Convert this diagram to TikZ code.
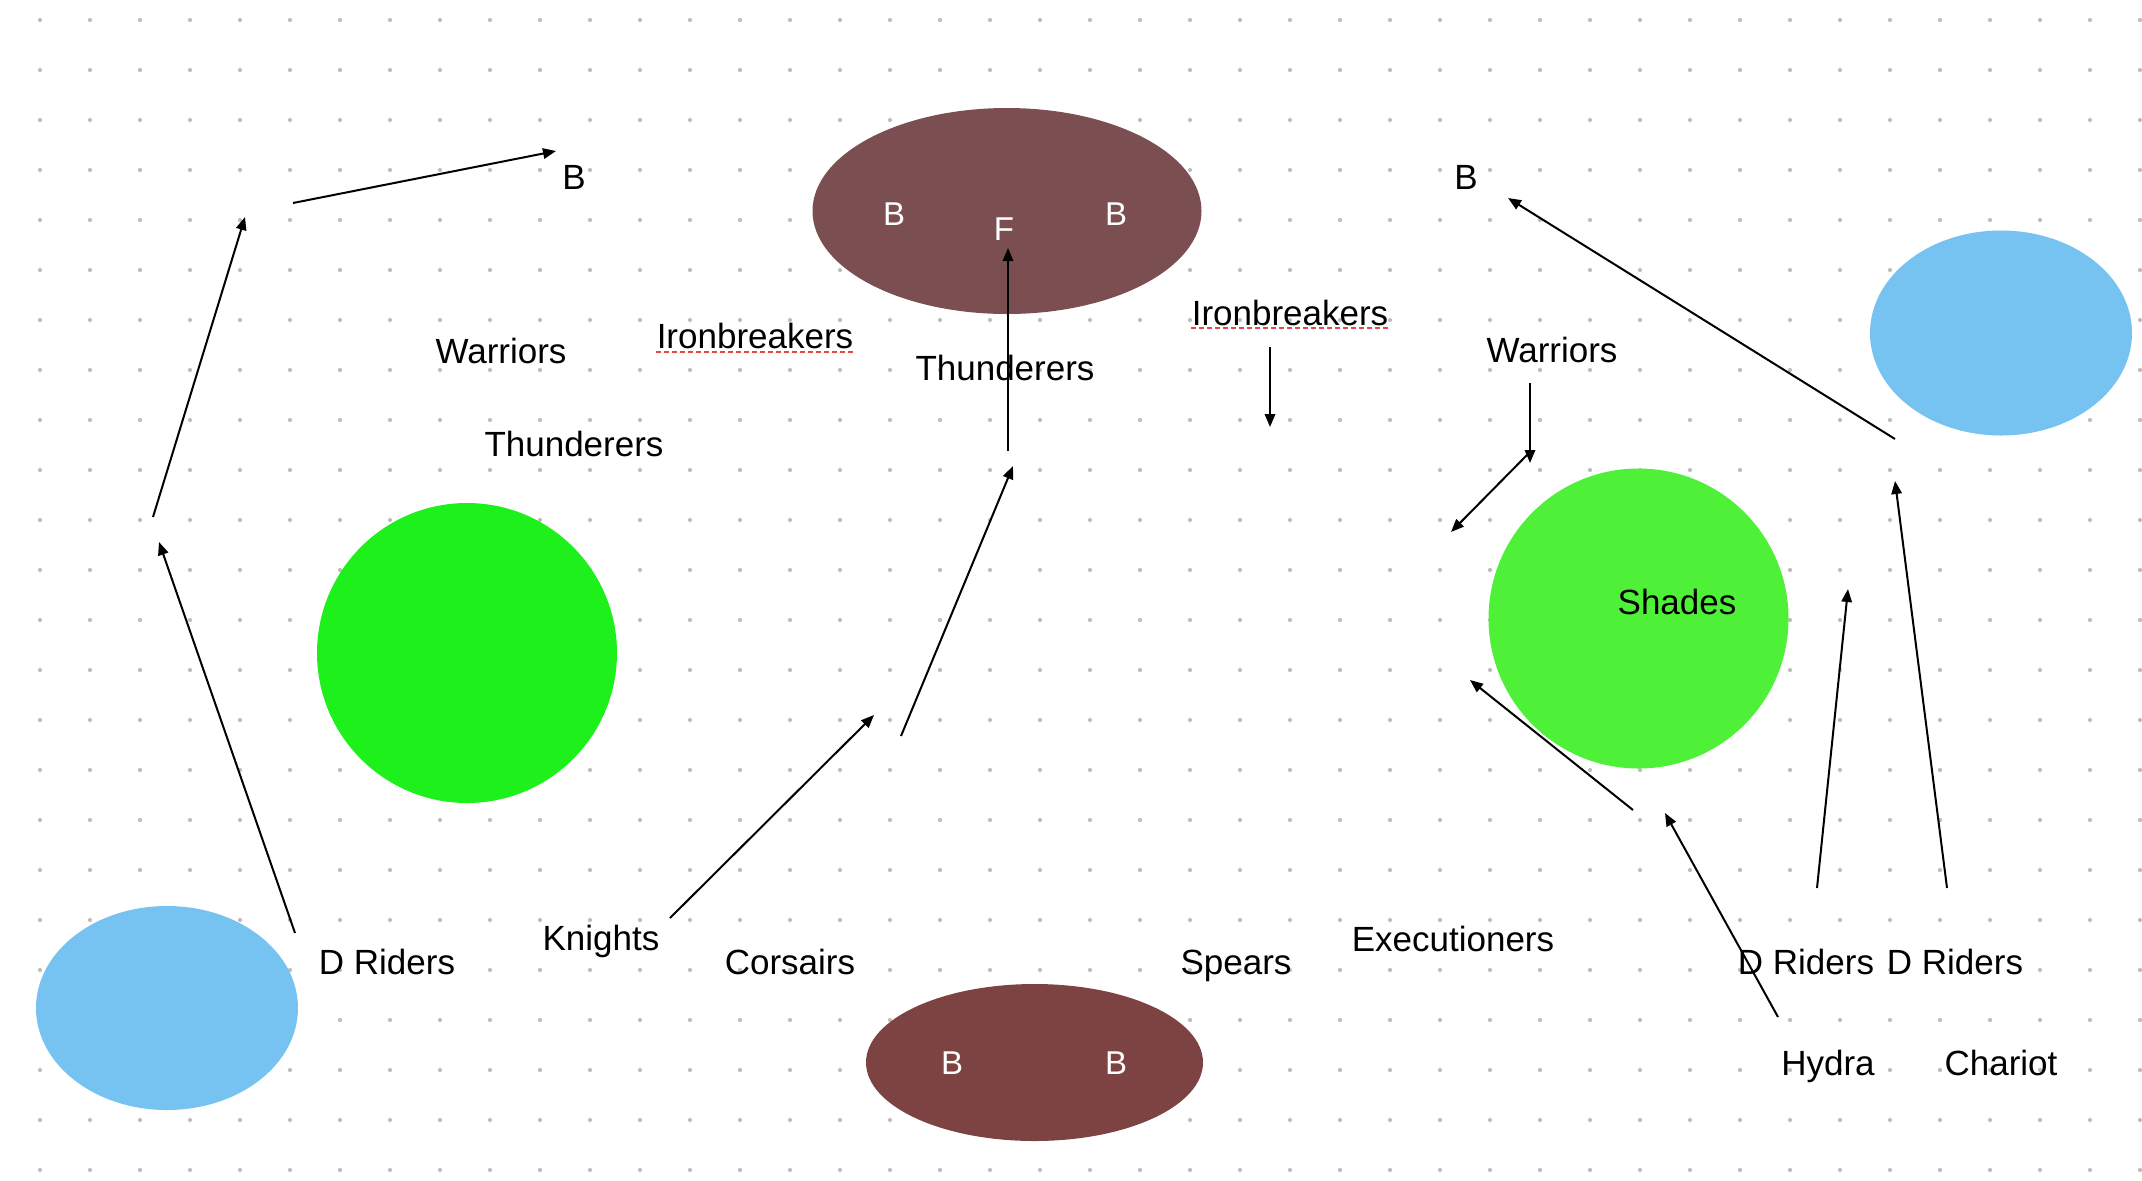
\documentclass[tikz,border=0pt]{standalone}
\usepackage{fontspec}
\setmainfont{Liberation Sans}
\usetikzlibrary{shapes.geometric,arrows.meta}

\definecolor{dotgrey}{RGB}{190,190,190}
\definecolor{campbrown}{RGB}{123,79,81}
\definecolor{baggagebrown}{RGB}{125,67,67}
\definecolor{woodgreen}{RGB}{30,240,27}
\definecolor{hillgreen}{RGB}{78,240,56}
\definecolor{lakeblue}{RGB}{118,194,240}
\definecolor{typored}{RGB}{232,71,59}

\begin{document}
\begin{tikzpicture}[
	x=0.5pt, y=-0.5pt,
	unit/.style={ font=\fontsize{17.5}{20}\selectfont, text height=12.5pt, text depth=0pt, inner sep=0pt },
	badge/.style={ white, font=\fontsize{16.5}{19}\selectfont, text height=11.8pt, text depth=0pt, inner sep=0pt },
	blob/.style={ ellipse, draw=none, inner sep=0pt },
	disc/.style={ circle, draw=none, inner sep=0pt, minimum size=150pt },
	move/.style={ -{Triangle[length=6.5pt,width=5.2pt]}, line width=1pt },
	typo/.style={ draw=typored, line width=1.3pt, dash pattern=on 2.5pt off 1.5pt }
]

\useasboundingbox (0,0) rectangle (2142,1180);
\foreach \gx in {40,90,...,2140} \foreach \gy in {20,70,...,1170} \fill[dotgrey] (\gx,\gy) circle (2.1);

% terrain
\node at (1007,211) (camp) [blob, fill=campbrown, minimum width=194.5pt, minimum height=103pt] {};
\node at (1034.5,1062.5) (baggage) [blob, fill=baggagebrown, minimum width=168.5pt, minimum height=78.5pt] {};
\node at (167,1008) (lakeL) [blob, fill=lakeblue, minimum width=131pt, minimum height=102pt] {};
\node at (2001,333) (lakeR) [blob, fill=lakeblue, minimum width=131pt, minimum height=102.5pt] {};
\node at (467,653) (wood) [disc, fill=woodgreen] {};
\node at (1638.5,618.5) (hill) [disc, fill=hillgreen] {};

\node at (894,214) (campB1) [badge] {B};
\node at (1004,229) (campF) [badge] {F};
\node at (1116,214) (campB2) [badge] {B};
\node at (952,1063) (bagB1) [badge] {B};
\node at (1116,1063) (bagB2) [badge] {B};

% units
\node at (574,177) (bL) [unit] {B};
\node at (501,351) (warL) [unit] {Warriors};
\node at (755,336) (ibL) [unit] {Ironbreakers};
\node at (574,444) (thL) [unit] {Thunderers};
\node at (1005,368) (thM) [unit] {Thunderers};
\node at (1290,313) (ibR) [unit] {Ironbreakers};
\node at (1466,177) (bR) [unit] {B};
\node at (1552,350) (warR) [unit] {Warriors};
\node at (1677,602) (shades) [unit] {Shades};
\node at (387,962) (drL) [unit] {D Riders};
\node at (601,938) (knights) [unit] {Knights};
\node at (790,962) (corsairs) [unit] {Corsairs};
\node at (1236,962) (spears) [unit] {Spears};
\node at (1453,939) (execs) [unit] {Executioners};
\node at (1806,962) (drM) [unit] {D Riders};
\node at (1955,962) (drR) [unit] {D Riders};
\node at (1828,1063) (hydra) [unit] {Hydra};
\node at (2001,1063) (chariot) [unit] {Chariot};

\draw[typo] ([yshift=-1.5pt]ibL.south west) -- ([yshift=-1.5pt]ibL.south east);
\draw[typo] ([yshift=-1pt]ibR.south west) -- ([yshift=-1pt]ibR.south east);

% moves
\coordinate (flankA) at (293,203);   \coordinate (flankB) at (556,151);
\coordinate (climbA) at (153,517);   \coordinate (climbB) at (245,217);
\coordinate (rideA) at (295,933);    \coordinate (rideB) at (159,542);
\coordinate (kniA) at (670,918);     \coordinate (kniB) at (874,715);
\coordinate (pushA) at (901,736);    \coordinate (pushB) at (1013,466);
\coordinate (thA) at (1008,451);     \coordinate (thB) at (1008,248);
\coordinate (ibA) at (1270,347);     \coordinate (ibB) at (1270,427);
\coordinate (warA) at (1530,383);    \coordinate (warB) at (1530,463);
\coordinate (slipA) at (1527,455);   \coordinate (slipB) at (1451,532);
\coordinate (lakeA) at (1895,439);   \coordinate (lakeB) at (1508,198);
\coordinate (exeA) at (1633,810);    \coordinate (exeB) at (1470,680);
\coordinate (hydA) at (1778,1017);   \coordinate (hydB) at (1665,813);
\coordinate (drmA) at (1817,888);    \coordinate (drmB) at (1848,589);
\coordinate (drrA) at (1947,888);    \coordinate (drrB) at (1895,481);
\foreach \src/\dst in {flankA/flankB,climbA/climbB,rideA/rideB,kniA/kniB,pushA/pushB,thA/thB,ibA/ibB,warA/warB,slipA/slipB,lakeA/lakeB,exeA/exeB,hydA/hydB,drmA/drmB,drrA/drrB} \draw[move] (\src) -- (\dst);

\end{tikzpicture}
\end{document}
